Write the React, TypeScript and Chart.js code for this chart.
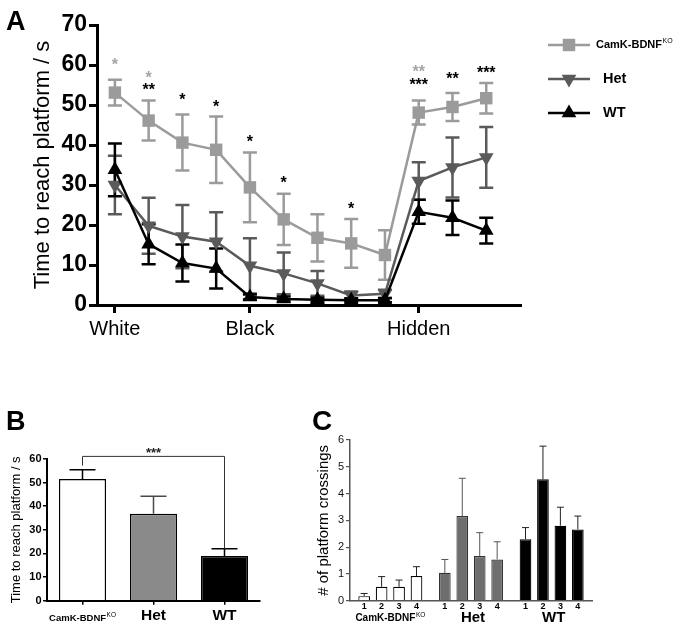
import React, { useEffect, useRef } from 'react';
import { Chart, registerables } from 'chart.js';

Chart.register(...registerables);

const FONT = "'Liberation Sans', Arial, Helvetica, sans-serif";

// ---------------- Panel A data ----------------
const trialIndex = [0, 1, 2, 3, 4, 5, 6, 7, 8, 9, 10, 11];
const phaseTickIndex = [0, 4, 9];
const phaseTickLabels = ['White', 'Black', 'Hidden'];
const groupNames = ['CamK-BDNF', 'Het', 'WT'];
const groupSup = ['KO', '', ''];

const koMean = [53.1, 46.1, 40.6, 38.8, 29.4, 21.4, 16.8, 15.4, 12.5, 48.1, 49.5, 51.7];
const koErr = [3.2, 5.0, 7.0, 8.3, 8.7, 6.4, 5.9, 6.1, 6.2, 3.0, 3.5, 3.8];
const hetMean = [30.0, 19.8, 17.1, 15.8, 9.8, 7.9, 5.4, 2.4, 2.8, 31.0, 34.4, 36.9];
const hetErr = [7.3, 7.0, 7.9, 7.4, 6.9, 5.2, 3.1, 1.0, 1.0, 4.7, 7.5, 7.6];
const wtMean = [33.8, 15.2, 10.5, 9.1, 2.0, 1.5, 1.3, 1.2, 1.2, 23.3, 21.8, 18.6];
const wtErr = [6.6, 5.0, 4.6, 5.0, 0.6, 0.6, 0.5, 0.5, 0.5, 3.0, 4.3, 3.2];

const starIndex = [0, 1, 1, 2, 3, 4, 5, 7, 9, 9, 10, 11];
const starValue = [60.8, 57.5, 54.4, 51.9, 50.3, 41.4, 31.3, 24.7, 59.0, 55.7, 57.2, 58.8];
const starText = ['*', '*', '**', '*', '*', '*', '*', '*', '**', '***', '**', '***'];
const starShade = ['gray', 'gray', 'black', 'black', 'black', 'black', 'black', 'black', 'gray', 'black', 'black', 'black'];

// ---------------- Panel B data ----------------
const finalMean = [51.5, 36.8, 18.9];
const finalErr = [4.0, 7.4, 3.1];
const bracketValue = 61.1;
const bracketLeftValue = 57.2;
const bracketStarValue = 63.8;
const bracketText = '***';

// ---------------- Panel C data ----------------
const crossTrialLabels = ['1', '2', '3', '4'];
const crossKO = [0.17, 0.52, 0.52, 0.92];
const crossKOErr = [0.1, 0.38, 0.25, 0.35];
const crossHet = [1.04, 3.16, 1.67, 1.54];
const crossHetErr = [0.5, 1.41, 0.87, 0.66];
const crossWT = [2.29, 4.53, 2.8, 2.66];
const crossWTErr = [0.44, 1.24, 0.69, 0.5];

// ---------------- styles ----------------
const A_COLORS = ['#9b9b9b', '#5a5a5a', '#000000'];
const STAR_GRAY = '#a5a5a5';
const B_FILLS = ['#ffffff', '#8a8a8a', '#000000'];
const B_ERR = ['#000000', '#4a4a4a', '#000000'];
const C_FILLS = ['#ffffff', '#6e6e6e', '#000000'];
const C_BORDERS = ['#000000', '#333333', '#000000'];
const C_ERR = ['#222222', '#555555', '#222222'];

function drawSupText(
  ctx: CanvasRenderingContext2D,
  base: string,
  sup: string,
  x: number,
  y: number,
  size: number,
  supSize: number,
  align: 'left' | 'center',
  color: string
) {
  ctx.save();
  ctx.fillStyle = color;
  ctx.textBaseline = 'middle';
  ctx.textAlign = 'left';
  ctx.font = `bold ${size}px ${FONT}`;
  const w1 = ctx.measureText(base).width;
  ctx.font = `${supSize}px ${FONT}`;
  const w2 = sup ? ctx.measureText(sup).width + 0.5 : 0;
  const x0 = align === 'center' ? x - (w1 + w2) / 2 : x;
  ctx.font = `bold ${size}px ${FONT}`;
  ctx.fillText(base, x0, y);
  if (sup) {
    ctx.font = `${supSize}px ${FONT}`;
    ctx.fillText(sup, x0 + w1 + 0.5, y - size * 0.32);
  }
  ctx.restore();
}

function drawMarker(ctx: CanvasRenderingContext2D, kind: string, x: number, y: number, r: number, color: string) {
  ctx.save();
  ctx.fillStyle = color;
  ctx.beginPath();
  if (kind === 'rect') {
    const s = r * Math.SQRT1_2;
    ctx.rect(x - s, y - s, 2 * s, 2 * s);
  } else if (kind === 'down') {
    ctx.moveTo(x, y + r);
    ctx.lineTo(x - r * 0.866, y - r / 2);
    ctx.lineTo(x + r * 0.866, y - r / 2);
    ctx.closePath();
  } else {
    ctx.moveTo(x, y - r);
    ctx.lineTo(x - r * 0.866, y + r / 2);
    ctx.lineTo(x + r * 0.866, y + r / 2);
    ctx.closePath();
  }
  ctx.fill();
  ctx.restore();
}

export default function App() {
  const refA = useRef<HTMLCanvasElement>(null);
  const refB = useRef<HTMLCanvasElement>(null);
  const refC = useRef<HTMLCanvasElement>(null);

  useEffect(() => {
    Chart.defaults.font.family = FONT;
    Chart.defaults.color = '#000';

    // ---------------- Panel A ----------------
    const seriesA = [
      { mean: koMean, err: koErr },
      { mean: hetMean, err: hetErr },
      { mean: wtMean, err: wtErr },
    ];
    const markerKinds = ['rect', 'down', 'up'];

    const pluginA = {
      id: 'panelA',
      beforeDatasetsDraw(chart: any) {
        const { ctx, scales } = chart;
        const x = scales.x;
        const y = scales.y;
        ctx.save();
        ctx.lineWidth = 2.5;
        seriesA.forEach((s, k) => {
          ctx.strokeStyle = A_COLORS[k];
          s.mean.forEach((v, i) => {
            const px = x.getPixelForValue(trialIndex[i]);
            const top = y.getPixelForValue(v + s.err[i]);
            const bot = y.getPixelForValue(Math.max(0, v - s.err[i]));
            ctx.beginPath();
            ctx.moveTo(px, top);
            ctx.lineTo(px, bot);
            ctx.moveTo(px - 7, top);
            ctx.lineTo(px + 7, top);
            ctx.moveTo(px - 7, bot);
            ctx.lineTo(px + 7, bot);
            ctx.stroke();
          });
        });
        ctx.restore();
      },
      afterDraw(chart: any) {
        const { ctx, scales } = chart;
        const x = scales.x;
        const y = scales.y;
        ctx.save();
        // significance stars
        ctx.font = `bold 16px ${FONT}`;
        ctx.textAlign = 'center';
        ctx.textBaseline = 'middle';
        starText.forEach((t, k) => {
          ctx.fillStyle = starShade[k] === 'gray' ? STAR_GRAY : '#000';
          ctx.fillText(t, x.getPixelForValue(starIndex[k]), y.getPixelForValue(starValue[k]) + 3.5);
        });
        // legend
        const rowsY = [45, 79, 113];
        groupNames.forEach((name, k) => {
          const ly = rowsY[k];
          ctx.strokeStyle = A_COLORS[k];
          ctx.lineWidth = 2.5;
          ctx.beginPath();
          ctx.moveTo(548, ly);
          ctx.lineTo(590, ly);
          ctx.stroke();
          drawMarker(ctx, markerKinds[k], 569, ly, k === 0 ? 8.8 : 8.5, A_COLORS[k]);
          if (groupSup[k]) {
            drawSupText(ctx, name, groupSup[k], 596, ly, 11, 7, 'left', '#000');
          } else {
            drawSupText(ctx, name, '', 603, ly, 14.5, 7, 'left', '#000');
          }
        });
        // panel letter
        ctx.fillStyle = '#000';
        ctx.textAlign = 'left';
        ctx.textBaseline = 'alphabetic';
        ctx.font = `bold 27px ${FONT}`;
        ctx.fillText('A', 6, 30);
        ctx.restore();
      },
    };

    const chartA = new Chart(refA.current as HTMLCanvasElement, {
      type: 'line',
      data: {
        datasets: seriesA.map((s, k) => ({
          label: groupNames[k],
          data: s.mean.map((v, i) => ({ x: trialIndex[i], y: v })),
          borderColor: A_COLORS[k],
          backgroundColor: A_COLORS[k],
          pointBackgroundColor: A_COLORS[k],
          pointBorderColor: A_COLORS[k],
          pointBorderWidth: 0,
          borderWidth: 2.5,
          tension: 0,
          pointStyle: k === 0 ? 'rect' : 'triangle',
          pointRotation: k === 1 ? 180 : 0,
          pointRadius: k === 0 ? 8.8 : 8.5,
          order: 3 - k,
        })),
      },
      options: {
        responsive: false,
        animation: false,
        layout: { padding: { left: 0, top: 25, right: 156, bottom: 0 } },
        plugins: { legend: { display: false }, tooltip: { enabled: false } },
        scales: {
          x: {
            type: 'linear',
            min: -0.53,
            max: 12,
            afterBuildTicks: (s: any) => {
              s.ticks = phaseTickIndex.map((v) => ({ value: v }));
            },
            afterFit: (s: any) => {
              s.height = 40;
            },
            ticks: {
              autoSkip: false,
              maxRotation: 0,
              padding: 4,
              color: '#000',
              font: { family: FONT, size: 20 },
              callback: (v: any) => phaseTickLabels[phaseTickIndex.indexOf(Number(v))] ?? '',
            },
            grid: { drawOnChartArea: false, color: '#000', lineWidth: 3, tickLength: 8 },
            border: { color: '#000', width: 3 },
          },
          y: {
            min: 0,
            max: 70,
            afterFit: (s: any) => {
              s.width = 97;
            },
            ticks: {
              stepSize: 10,
              padding: 2,
              color: '#000',
              font: { family: FONT, size: 23, weight: 'bold' },
            },
            grid: { drawOnChartArea: false, color: '#000', lineWidth: 3, tickLength: 8 },
            border: { color: '#000', width: 3 },
            title: {
              display: true,
              text: 'Time to reach platform / s',
              color: '#000',
              font: { family: FONT, size: 22 },
              padding: { top: 30, bottom: 0 },
            },
          },
        },
      },
      plugins: [pluginA],
    } as any);

    // ---------------- Panel B ----------------
    const pluginB = {
      id: 'panelB',
      afterDatasetsDraw(chart: any) {
        const { ctx, scales } = chart;
        const y = scales.y;
        const bars = chart.getDatasetMeta(0).data;
        ctx.save();
        ctx.lineWidth = 1.5;
        finalMean.forEach((v, i) => {
          const px = bars[i].x;
          const top = y.getPixelForValue(v + finalErr[i]);
          const base = y.getPixelForValue(v);
          ctx.strokeStyle = B_ERR[i];
          ctx.beginPath();
          ctx.moveTo(px, base);
          ctx.lineTo(px, top);
          ctx.moveTo(px - 13, top);
          ctx.lineTo(px + 13, top);
          ctx.stroke();
        });
        // bracket
        const xl = bars[0].x;
        const xr = bars[2].x;
        const yb = y.getPixelForValue(bracketValue);
        ctx.strokeStyle = '#333';
        ctx.lineWidth = 1;
        ctx.beginPath();
        ctx.moveTo(xl, y.getPixelForValue(bracketLeftValue));
        ctx.lineTo(xl, yb);
        ctx.lineTo(xr, yb);
        ctx.lineTo(xr, y.getPixelForValue(finalMean[2] + finalErr[2]));
        ctx.stroke();
        ctx.fillStyle = '#222';
        ctx.font = `bold 13px ${FONT}`;
        ctx.textAlign = 'center';
        ctx.textBaseline = 'middle';
        ctx.fillText(bracketText, (xl + xr) / 2, y.getPixelForValue(bracketStarValue) + 3);
        // group labels
        groupNames.forEach((name, i) => {
          if (groupSup[i]) {
            drawSupText(ctx, name, groupSup[i], bars[i].x, 238, 9.5, 6.5, 'center', '#000');
          } else {
            drawSupText(ctx, name, '', bars[i].x, 236, 15.5, 6, 'center', '#000');
          }
        });
        ctx.fillStyle = '#000';
        ctx.textAlign = 'left';
        ctx.textBaseline = 'alphabetic';
        ctx.font = `bold 27px ${FONT}`;
        ctx.fillText('B', 6, 50);
        ctx.restore();
      },
    };

    const chartB = new Chart(refB.current as HTMLCanvasElement, {
      type: 'bar',
      data: {
        labels: groupNames,
        datasets: [
          {
            label: 'Hidden',
            data: finalMean,
            backgroundColor: B_FILLS,
            borderColor: '#000',
            borderWidth: 1.5,
            categoryPercentage: 1,
            barPercentage: 0.665,
          },
        ],
      },
      options: {
        responsive: false,
        animation: false,
        layout: { padding: { left: 0, top: 79, right: 35, bottom: 0 } },
        plugins: { legend: { display: false }, tooltip: { enabled: false } },
        scales: {
          x: {
            afterFit: (s: any) => {
              s.height = 29.3;
            },
            ticks: { display: false },
            grid: { drawOnChartArea: false, offset: false, color: '#000', lineWidth: 1.5, tickLength: 4 },
            border: { color: '#000', width: 2 },
          },
          y: {
            min: 0,
            max: 60,
            afterFit: (s: any) => {
              s.width = 47;
            },
            ticks: { stepSize: 10, padding: 1.5, color: '#000', font: { family: FONT, size: 11, weight: 'bold' } },
            grid: { drawOnChartArea: false, color: '#000', lineWidth: 1.5, tickLength: 4 },
            border: { color: '#000', width: 2 },
            title: {
              display: true,
              text: 'Time to reach platform / s',
              color: '#000',
              font: { family: FONT, size: 13 },
              padding: { top: 9, bottom: 0 },
            },
          },
        },
      },
      plugins: [pluginB],
    } as any);

    // ---------------- Panel C ----------------
    const crossGroups = [crossKO, crossHet, crossWT];
    const crossErrs = [crossKOErr, crossHetErr, crossWTErr];

    const pluginC = {
      id: 'panelC',
      afterDatasetsDraw(chart: any) {
        const { ctx, scales } = chart;
        const y = scales.y;
        ctx.save();
        crossTrialLabels.forEach((t, k) => {
          const bars = chart.getDatasetMeta(k).data;
          crossGroups.forEach((g, i) => {
            const px = bars[i].x;
            const base = y.getPixelForValue(g[k]);
            const top = y.getPixelForValue(g[k] + crossErrs[i][k]);
            ctx.strokeStyle = C_ERR[i];
            ctx.lineWidth = 1;
            ctx.beginPath();
            ctx.moveTo(px, base);
            ctx.lineTo(px, top);
            ctx.moveTo(px - 3.5, top);
            ctx.lineTo(px + 3.5, top);
            ctx.stroke();
            ctx.fillStyle = '#000';
            ctx.font = `bold 9px ${FONT}`;
            ctx.textAlign = 'center';
            ctx.textBaseline = 'middle';
            ctx.fillText(t, px, 227);
          });
        });
        const x = scales.x;
        groupNames.forEach((name, i) => {
          const cx = x.getPixelForValue(i);
          if (groupSup[i]) {
            drawSupText(ctx, name, groupSup[i], cx, 238, 10, 6.5, 'center', '#000');
          } else {
            drawSupText(ctx, name, '', cx + 2, 238, 15, 6, 'center', '#000');
          }
        });
        ctx.fillStyle = '#000';
        ctx.textAlign = 'left';
        ctx.textBaseline = 'alphabetic';
        ctx.font = `bold 28px ${FONT}`;
        ctx.fillText('C', 12, 50);
        ctx.restore();
      },
    };

    const chartC = new Chart(refC.current as HTMLCanvasElement, {
      type: 'bar',
      data: {
        labels: groupNames,
        datasets: crossTrialLabels.map((t, k) => ({
          label: t,
          data: crossGroups.map((g) => g[k]),
          backgroundColor: C_FILLS,
          borderColor: C_BORDERS,
          borderWidth: 1.2,
          categoryPercentage: 0.865,
          barPercentage: 0.67,
        })),
      },
      options: {
        responsive: false,
        animation: false,
        layout: { padding: { left: 0, top: 60, right: 84, bottom: 0 } },
        plugins: { legend: { display: false }, tooltip: { enabled: false } },
        scales: {
          x: {
            afterFit: (s: any) => {
              s.height = 29.3;
            },
            ticks: { display: false },
            grid: { display: false, drawOnChartArea: false, drawTicks: false },
            border: { color: '#555', width: 1.5 },
          },
          y: {
            min: 0,
            max: 6,
            afterFit: (s: any) => {
              s.width = 50;
            },
            ticks: { stepSize: 1, padding: 2, color: '#111', font: { family: FONT, size: 11 } },
            grid: { drawOnChartArea: false, color: '#555', lineWidth: 1.2, tickLength: 4 },
            border: { color: '#555', width: 1.5 },
            title: {
              display: true,
              text: '# of platform crossings',
              color: '#000',
              font: { family: FONT, size: 15 },
              padding: { top: 15, bottom: 0 },
            },
          },
        },
      },
      plugins: [pluginC],
    } as any);

    return () => {
      chartA.destroy();
      chartB.destroy();
      chartC.destroy();
    };
  }, []);

  return (
    <div
      style={{
        position: 'fixed',
        left: 0,
        top: 0,
        width: 676,
        height: 630,
        background: '#fff',
        overflow: 'hidden',
      }}
    >
      <canvas ref={refA} width={676} height={345} style={{ position: 'absolute', left: 0, top: 0 }} />
      <canvas ref={refB} width={295} height={250} style={{ position: 'absolute', left: 0, top: 380 }} />
      <canvas ref={refC} width={376} height={250} style={{ position: 'absolute', left: 300, top: 380 }} />
    </div>
  );
}
